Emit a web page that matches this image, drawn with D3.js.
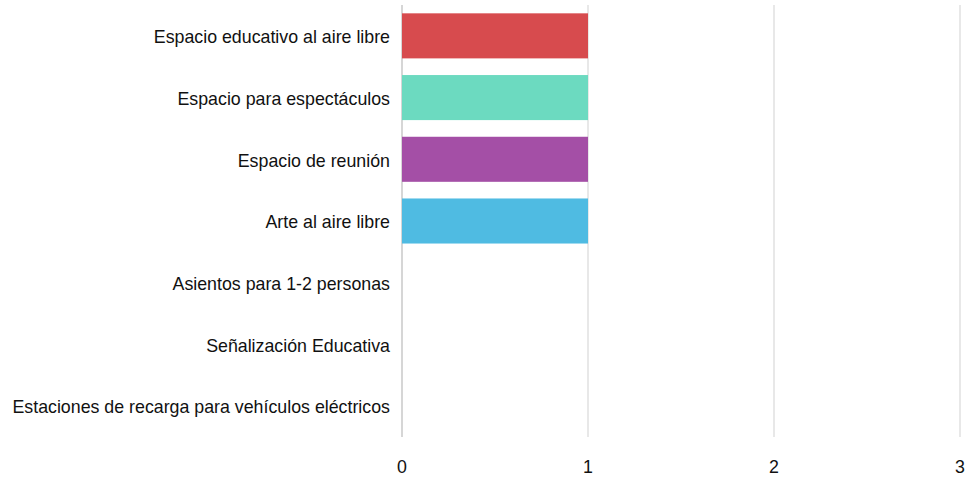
<!DOCTYPE html>
<html><head><meta charset="utf-8">
<script src="https://cdn.jsdelivr.net/npm/d3@7"></script>
<style>body{margin:0;background:#fff;}svg{display:block;}</style>
</head><body><svg id="c" width="968" height="480"></svg>
<script>
const categories = ["Espacio educativo al aire libre","Espacio para espectáculos","Espacio de reunión","Arte al aire libre","Asientos para 1-2 personas","Señalización Educativa","Estaciones de recarga para vehículos eléctricos"];
const values = [1,1,1,1,0,0,0];
const colors = ["#D74B4E","#6CDAC0","#A44FA6","#4FBBE2","#cccccc","#cccccc","#cccccc"];
const xTicks = [0,1,2,3];

const svg = d3.select("#c");
const font = "'Liberation Sans', Arial, sans-serif";
const x = d3.scaleLinear().domain([0,3]).range([402,960]);
const y = d3.scaleBand().domain(categories).range([5,437]).paddingInner(0.27).paddingOuter(0.135);

svg.append("g").selectAll("line").data(xTicks).join("line")
  .attr("x1", d=>x(d)).attr("x2", d=>x(d)).attr("y1",5).attr("y2",437)
  .attr("stroke", d=> d===0 ? "#c8c8c8" : "#e0e0e0").attr("stroke-width",1.5);

svg.append("g").selectAll("rect").data(categories).join("rect")
  .attr("x", x(0)).attr("y", d=>y(d))
  .attr("width", (d,i)=>x(values[i])-x(0)).attr("height", y.bandwidth())
  .attr("fill", (d,i)=>colors[i]);

svg.append("g").selectAll("text").data(categories).join("text")
  .attr("x",390).attr("y", d=>y(d)+y.bandwidth()/2+1).attr("dy","0.35em")
  .attr("text-anchor","end").attr("font-family",font).attr("font-size",17.8).attr("fill","#111")
  .text(d=>d);

svg.append("g").selectAll("text").data(xTicks).join("text")
  .attr("x", d=>x(d)).attr("y",467).attr("dy","0.35em")
  .attr("text-anchor","middle").attr("font-family",font).attr("font-size",17.8).attr("fill","#111")
  .text(d=>d);
</script></body></html>
